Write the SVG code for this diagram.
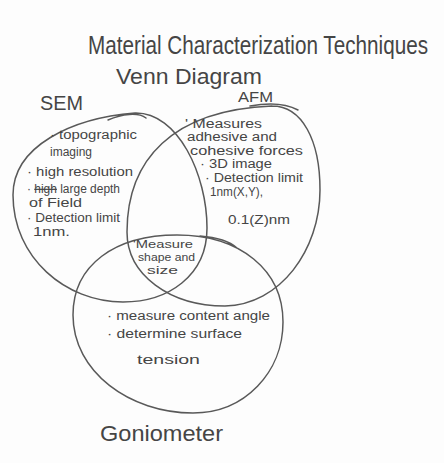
<svg xmlns="http://www.w3.org/2000/svg" width="444" height="463" viewBox="0 0 444 463">
<style>
.ring{fill:none;stroke:#595959;stroke-width:1.5;stroke-linecap:round;stroke-linejoin:round}
.t{font-family:"Liberation Sans","DejaVu Sans",sans-serif;fill:#454545}
.b{font-size:12px}
.s{font-size:11px}
.h{font-size:20px}
</style>
<rect width="444" height="463" fill="#fdfdfd"/>
<g id="title">
<text class="t" transform="translate(88,54) scale(1,1.25)" x="0" y="0" font-size="21" textLength="340" lengthAdjust="spacingAndGlyphs">Material Characterization Techniques</text>
<text class="t" x="116" y="84" font-size="22" textLength="146" lengthAdjust="spacingAndGlyphs">Venn Diagram</text>
</g>
<g id="sem">
<path class="ring" d="M135,113 C178,112 207,175 207,228 C207,276 168,302 123,302 C66,302 13,258 13,195 C13,146 72,118 135,113 M108,120 C122,114 138,112 146,118"/>
<text class="t h" x="40" y="110" textLength="43" lengthAdjust="spacingAndGlyphs">SEM</text>
<text class="t b" x="50" y="139" textLength="87" lengthAdjust="spacingAndGlyphs">· topographic</text>
<text class="t b" x="50" y="156" textLength="42" lengthAdjust="spacingAndGlyphs">imaging</text>
<text class="t b" x="27" y="176" textLength="106" lengthAdjust="spacingAndGlyphs">· high resolution</text>
<text class="t b" x="27" y="193" textLength="93" lengthAdjust="spacingAndGlyphs">· <tspan text-decoration="line-through">high</tspan> large depth</text>
<text class="t b" x="29" y="207" textLength="53" lengthAdjust="spacingAndGlyphs">of Field</text>
<text class="t b" x="27" y="222" textLength="93" lengthAdjust="spacingAndGlyphs">· Detection limit</text>
<text class="t b" x="33" y="236" textLength="37" lengthAdjust="spacingAndGlyphs">1nm.</text>
</g>
<g id="afm">
<path class="ring" d="M272,106 C302,106 320,140 320,190 C320,250 280,305 225,306 C170,306 127,275 127,232 C127,160 172,110 272,106 M250,106 C266,103 285,103 298,110"/>
<text class="t" x="238" y="102" font-size="14" textLength="35" lengthAdjust="spacingAndGlyphs">AFM</text>
<text class="t b" x="185" y="128" textLength="77" lengthAdjust="spacingAndGlyphs">' Measures</text>
<text class="t b" x="187" y="141" textLength="90" lengthAdjust="spacingAndGlyphs">adhesive and</text>
<text class="t b" x="190" y="155" textLength="113" lengthAdjust="spacingAndGlyphs">cohesive forces</text>
<text class="t b" x="200" y="168" textLength="72" lengthAdjust="spacingAndGlyphs">· 3D image</text>
<text class="t b" x="205" y="182" textLength="98" lengthAdjust="spacingAndGlyphs">· Detection limit</text>
<text class="t b" x="210" y="196" textLength="53" lengthAdjust="spacingAndGlyphs">1nm(X,Y),</text>
<text class="t b" x="228" y="224" textLength="62" lengthAdjust="spacingAndGlyphs">0.1(Z)nm</text>
</g>
<g id="goniometer">
<path class="ring" d="M177,235 C240,235 283,270 283,322 C283,372 245,413 193,413 C130,413 73,372 73,315 C73,265 115,235 177,235 M200,236 Q226,238 237,248"/>
<text class="t b" x="107" y="320" textLength="163" lengthAdjust="spacingAndGlyphs">· measure content angle</text>
<text class="t b" x="107" y="338" textLength="135" lengthAdjust="spacingAndGlyphs">· determine surface</text>
<text class="t b" x="137" y="364" textLength="63" lengthAdjust="spacingAndGlyphs">tension</text>
<text class="t" x="100" y="441" font-size="22" textLength="123" lengthAdjust="spacingAndGlyphs">Goniometer</text>
</g>
<g id="overlap">
<text class="t s" x="133" y="248" textLength="60" lengthAdjust="spacingAndGlyphs">'Measure</text>
<text class="t s" x="138" y="261" textLength="57" lengthAdjust="spacingAndGlyphs">shape and</text>
<text class="t s" x="147" y="274" textLength="31" lengthAdjust="spacingAndGlyphs">size</text>
</g>
<g id="connectors"></g>
</svg>
